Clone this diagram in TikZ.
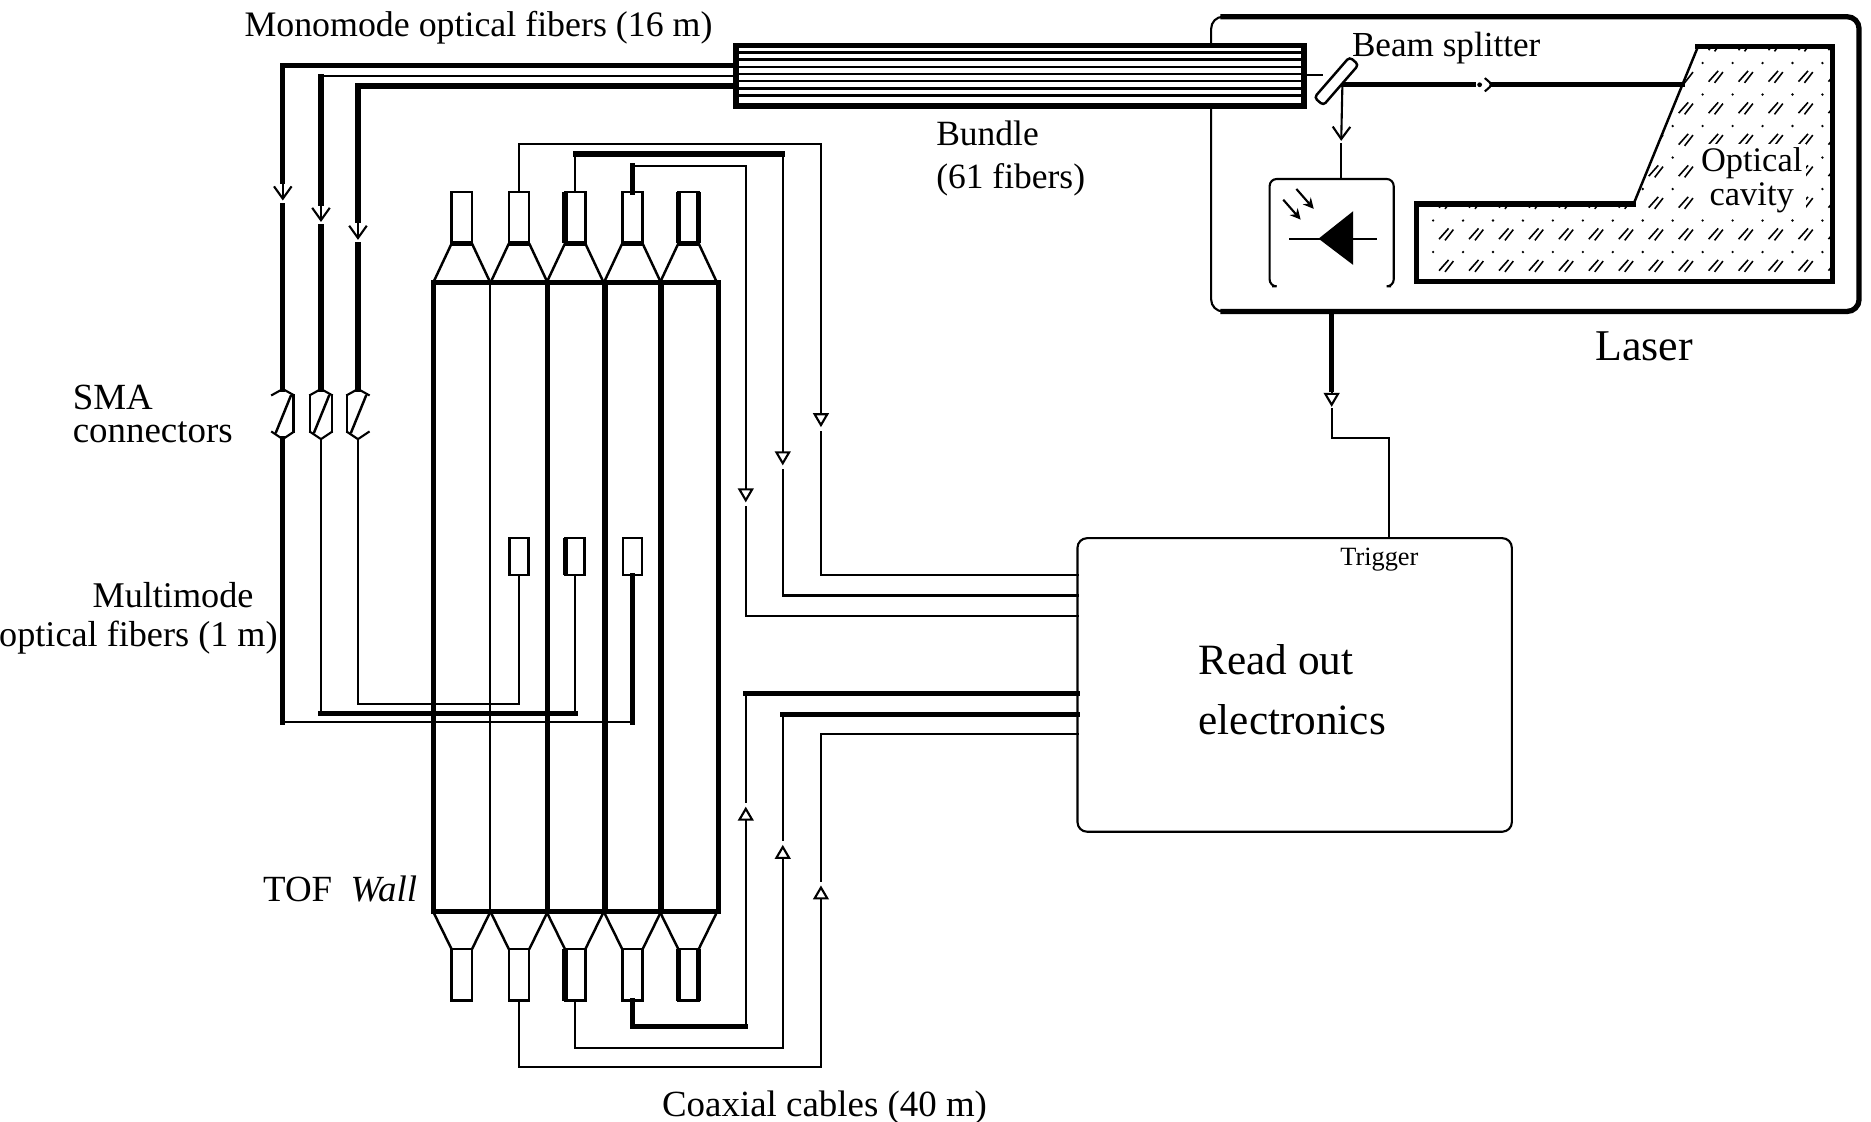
\documentclass[tikz,border=0pt]{standalone}
\usepackage{fontspec}
\setmainfont{Liberation Serif}
\usetikzlibrary{arrows.meta}

\def\uu{0.011932cm}
\tikzset{
  thinline/.style={line width=.6pt,line cap=rect},
  wideline/.style={line width=1.5pt,line cap=rect},
  edgeline/.style={line width=1.5pt},
  guideline/.style={line width=.7pt},
  fibretip/.style={-{Straight Barb[length=3.5pt,width=5pt]}},
  cabletip/.style={-{Triangle[open,length=4pt,width=4.5pt]}},
  pmt/.style={draw,line width=.7pt,outer sep=0pt,minimum width=17*\uu,minimum height=43*\uu,inner sep=0pt},
  tap/.style={draw,line width=.7pt,outer sep=0pt,minimum width=16*\uu,minimum height=31*\uu,inner sep=0pt},
  label/.style={inner sep=0pt,align=center},
}

\begin{document}
\begin{tikzpicture}[x=\uu,y=-\uu]
    \useasboundingbox (0,0) rectangle (1568,940);

    % laser housing
    \node[draw,thinline,outer sep=0pt,rounded corners=10*\uu,minimum width=543*\uu,minimum height=247*\uu,inner sep=0pt] (laser) at (1286.5,137.5) {};
    \draw[wideline,rounded corners=10*\uu] ([xshift=10*\uu]laser.north west) -- (laser.north east) -- (laser.south east) -- ([xshift=10*\uu]laser.south west);

    % bundle
    \node[draw,fill=white,line width=1.6pt,outer sep=0pt,minimum width=476*\uu,minimum height=51*\uu,inner sep=0pt] (bundle) at (855,63.5) {};
    \foreach \ypos in {44,50,56,62,68,74,80}{
        \draw[line width=.7pt] (bundle.west |- 0,\ypos) -- (bundle.east |- 0,\ypos);
    }

    % scintillator bars
    \foreach \xpos/\barline in {363/wideline,411/thinline,459/wideline,507/wideline,554/wideline,602/wideline}{
        \draw[\barline] (\xpos,237) -- (\xpos,764);
    }
    \draw[wideline] (363,237) -- (602,237);
    \draw[wideline] (363,764) -- (602,764);

    % phototubes and light guides
    \foreach \xpos[count=\nn] in {387,435,482,530,577}{
        \node[pmt] (pmt-t-\nn) at (\xpos,182.5) {};
        \node[pmt] (pmt-b-\nn) at (\xpos,817) {};
        \draw[guideline] ({\xpos-24},237) -- (pmt-t-\nn.south west);
        \draw[guideline] ({\xpos+24},237) -- (pmt-t-\nn.south east);
        \draw[guideline] ({\xpos-24},764) -- (pmt-b-\nn.north west);
        \draw[guideline] ({\xpos+24},764) -- (pmt-b-\nn.north east);
        \draw[edgeline] (pmt-t-\nn.south west) -- (pmt-t-\nn.south east);
    }
    \draw[edgeline] (pmt-t-3.north west) -- (pmt-t-3.south west);
    \draw[edgeline] (pmt-b-3.north west) -- (pmt-b-3.south west);
    \draw[edgeline] (pmt-t-5.north west) -- (pmt-t-5.south west);
    \draw[edgeline] (pmt-t-5.north east) -- (pmt-t-5.south east);
    \draw[edgeline] (pmt-b-5.north west) -- (pmt-b-5.south west);
    \draw[edgeline] (pmt-b-5.north east) -- (pmt-b-5.south east);

    % fibre entries on the bars
    \foreach \nn/\xpos in {2/435,3/482,4/530}{
        \node[tap] (tap-\nn) at (\xpos,466.5) {};
    }
    \draw[edgeline] (tap-3.north west) -- (tap-3.south west);

    % read out
    \node[draw,thinline,outer sep=0pt,rounded corners=8*\uu,minimum width=364*\uu,minimum height=246*\uu,inner sep=0pt] (readout) at (1085,574) {};
    \node[label,align=left,font=\fontsize{12.3}{17.3}\selectfont] (lb-read) at (1083,578) {Read out\\electronics};

    % monomode and multimode fibres
    \foreach \nn/\xpos/\ypos/\yarrow/\ylow/\tapid/\topline/\lowline/\runline/\riseline in {%
        1/237/55/160/605/4/wideline/wideline/thinline/wideline,
        2/269/64/178/598/3/thinline/thinline/wideline/thinline,
        3/300/72/193/590/2/wideline/thinline/thinline/thinline%
    }{%
        \coordinate (fib-a-\nn) at (bundle.west |- 0,\ypos);
        \coordinate (fib-b-\nn) at (\xpos,\ypos);
        \coordinate (sma-t-\nn) at (\xpos,326);
        \coordinate (sma-b-\nn) at (\xpos,368);
        \coordinate (fib-c-\nn) at (\xpos,\ylow);
        \coordinate (fib-d-\nn) at (tap-\tapid.south |- 0,\ylow);
        \draw[\topline] (fib-a-\nn) -- (fib-b-\nn);
        \draw[wideline] (fib-b-\nn) -- (\xpos,{\yarrow-8});
        \draw[thinline,fibretip] (\xpos,{\yarrow-8}) -- (\xpos,{\yarrow+8});
        \draw[wideline] (\xpos,{\yarrow+12}) -- (sma-t-\nn);
        \draw[\lowline] (sma-b-\nn) -- (fib-c-\nn);
        \draw[\runline] (fib-c-\nn) -- (fib-d-\nn);
        \draw[\riseline] (fib-d-\nn) -- (tap-\tapid.south);
        % connector outline
        \draw[thinline] ({\xpos-9},331) -- (sma-t-\nn) -- ({\xpos+9},331);
        \draw[thinline] ({\xpos-9},362) -- (sma-b-\nn) -- ({\xpos+9},362);
        \draw[guideline] ({\xpos+7},331) -- ({\xpos-6},363);
    }
    \draw[thinline] (246,331) -- (246,362);
    \draw[thinline] (260,331) -- (260,362);
    \draw[thinline] (278,331) -- (278,362);
    \draw[thinline] (291,331) -- (291,362);

    % coaxial cables, upper side
    \foreach \nn/\xturn/\yturn/\yarrow/\yend/\riseline/\runline/\endline in {%
        2/688/121/352/482/thinline/thinline/thinline,
        3/656/129/384/499/thinline/wideline/thinline,
        4/625/139/415/516/wideline/thinline/thinline%
    }{%
        \coordinate (cab-ta-\nn) at (pmt-t-\nn.north |- 0,\yturn);
        \coordinate (cab-tb-\nn) at (\xturn,\yturn);
        \coordinate (cab-tc-\nn) at (\xturn,\yend);
        \coordinate (rd-t-\nn) at (readout.west |- 0,\yend);
        \draw[\riseline] (pmt-t-\nn.north) -- (cab-ta-\nn);
        \draw[\runline] (cab-ta-\nn) -- (cab-tb-\nn);
        \draw[thinline,cabletip] (cab-tb-\nn) -- (\xturn,{\yarrow+6});
        \draw[thinline] (\xturn,{\yarrow+10}) -- (cab-tc-\nn);
        \draw[\endline] (cab-tc-\nn) -- (rd-t-\nn);
    }

    % coaxial cables, lower side
    \foreach \nn/\xturn/\yturn/\yarrow/\yend/\riseline/\runline/\endline in {%
        2/688/894/748/615/thinline/thinline/thinline,
        3/656/878/714/599/thinline/thinline/wideline,
        4/625/860/682/581/wideline/wideline/wideline%
    }{%
        \coordinate (cab-ba-\nn) at (pmt-b-\nn.south |- 0,\yturn);
        \coordinate (cab-bb-\nn) at (\xturn,\yturn);
        \coordinate (cab-bc-\nn) at (\xturn,\yend);
        \coordinate (rd-b-\nn) at (readout.west |- 0,\yend);
        \draw[\riseline] (pmt-b-\nn.south) -- (cab-ba-\nn);
        \draw[\runline] (cab-ba-\nn) -- (cab-bb-\nn);
        \draw[thinline,cabletip] (cab-bb-\nn) -- (\xturn,{\yarrow-6});
        \draw[thinline] (\xturn,{\yarrow-10}) -- (cab-bc-\nn);
        \draw[\endline] (cab-bc-\nn) -- (rd-b-\nn);
    }

    % optical cavity
    \begin{scope}
        \clip (1187,171) -- (1369,171) -- (1423,39) -- (1536,39) -- (1536,236) -- (1187,236) -- cycle;
        \foreach \row in {0,...,7}{
            \foreach \col in {0,...,13}{
                \fill ({1201+25.1*\col},{26.4+26.4*\row}) circle (1.1*\uu);
                \draw[line width=.45pt] ({1206+25.1*\col},{42+26.4*\row}) -- ({1214+25.1*\col},{33+26.4*\row});
                \draw[line width=.45pt] ({1211+25.1*\col},{43+26.4*\row}) -- ({1218+25.1*\col},{34+26.4*\row});
            }
        }
    \end{scope}
    \draw[wideline] (1369,171) -- (1187,171) -- (1187,236) -- (1536,236) -- (1536,39) -- (1423,39);
    \draw[guideline] (1369,171) -- (1423,39);
    \node[label,fill=white,inner sep=1pt,font=\fontsize{9.8}{8}\selectfont] (cavity) at (1468,151) {Optical\\cavity};

    % beam and splitter
    \coordinate (beam-a) at (1125,71);
    \coordinate (beam-b) at (1235,71);
    \coordinate (beam-c) at (1251,71);
    \coordinate (beam-d) at (1410,71);
    \coordinate (beam-e) at (1124,108);
    \coordinate (beam-f) at (1124,121);
    \draw[thinline] (bundle.east |- 0,63) -- (1108,63);
    \draw[wideline] (beam-a) -- (beam-b);
    \draw[wideline] (beam-c) -- (beam-d);
    \fill (1240,71) circle (2*\uu);
    \draw[thinline] (1245,66) .. controls (1251,71) .. (1245,76);
    \node[draw,fill=white,line width=.7pt,rounded corners=1pt,rotate=49,minimum width=45*\uu,minimum height=10*\uu,inner sep=0pt] (splitter) at (1120,68) {};

    % photodiode
    \coordinate (diode-l) at (1081,200);
    \coordinate (diode-r) at (1153,200);
    \coordinate (pd-nw) at (1064,150);
    \coordinate (pd-ne) at (1168,150);
    \coordinate (pd-sw) at (1064,240);
    \coordinate (pd-se) at (1168,240);
    \draw[thinline,rounded corners=2pt] (1067,240) -- (pd-sw) -- (pd-nw) -- (pd-ne) -- (pd-se) -- (1165,240);
    \draw[thinline,fibretip] (beam-a |- 0,71) -- (beam-e |- 0,118);
    \draw[thinline] (beam-f) -- (beam-f |- pd-ne);
    \draw[thinline] (diode-l) -- (diode-r);
    \fill (1134,177) -- (1134,222) -- (1105,200) -- cycle;
    \draw[thinline,-{Stealth[length=3pt,width=3pt]}] (1076,168) -- (1090,184);
    \draw[thinline,-{Stealth[length=3pt,width=3pt]}] (1087,159) -- (1101,175);

    % trigger
    \coordinate (trig-a) at (laser.south -| 1116,0);
    \coordinate (trig-b) at (1116,326);
    \coordinate (trig-c) at (1116,343);
    \coordinate (trig-d) at (1116,367);
    \coordinate (trig-e) at (1164,367);
    \draw[wideline] (trig-a) -- (trig-b);
    \draw[thinline,cabletip] (trig-b) -- (1116,341);
    \draw[thinline] (trig-c) -- (trig-d) -- (trig-e) -- (trig-e |- readout.north);

    % labels
    \node[label,font=\fontsize{10.2}{12}\selectfont] (lb-mono) at (401,23) {Monomode optical fibers (16 m)};
    \node[label,font=\fontsize{10}{12}\selectfont] (lb-split) at (1212,40) {Beam splitter};
    \node[label,align=left,font=\fontsize{10.1}{12.2}\selectfont] (lb-bundle) at (847,133) {Bundle\\(61 fibers)};
    \node[label,font=\fontsize{12.5}{14}\selectfont] (lb-laser) at (1378,290) {Laser};
    \node[label,align=left,font=\fontsize{10.5}{9.5}\selectfont] (lb-sma) at (128,347) {SMA\\connectors};
    \node[label,font=\fontsize{10.3}{12}\selectfont] (lb-multi) at (145,499) {Multimode};
    \node[label,font=\fontsize{10.3}{12}\selectfont] (lb-optic) at (116,534) {optical fibers (1 m)};
    \node[label,font=\fontsize{10.5}{12}\selectfont] (lb-tof) at (285,745) {TOF\ \ \textit{Wall}};
    \node[label,font=\fontsize{7.5}{9}\selectfont] (lb-trig) at (1156,469) {Trigger};
    \node[label,font=\fontsize{10.5}{12}\selectfont] (lb-coax) at (691,928) {Coaxial cables (40 m)};
\end{tikzpicture}
\end{document}
